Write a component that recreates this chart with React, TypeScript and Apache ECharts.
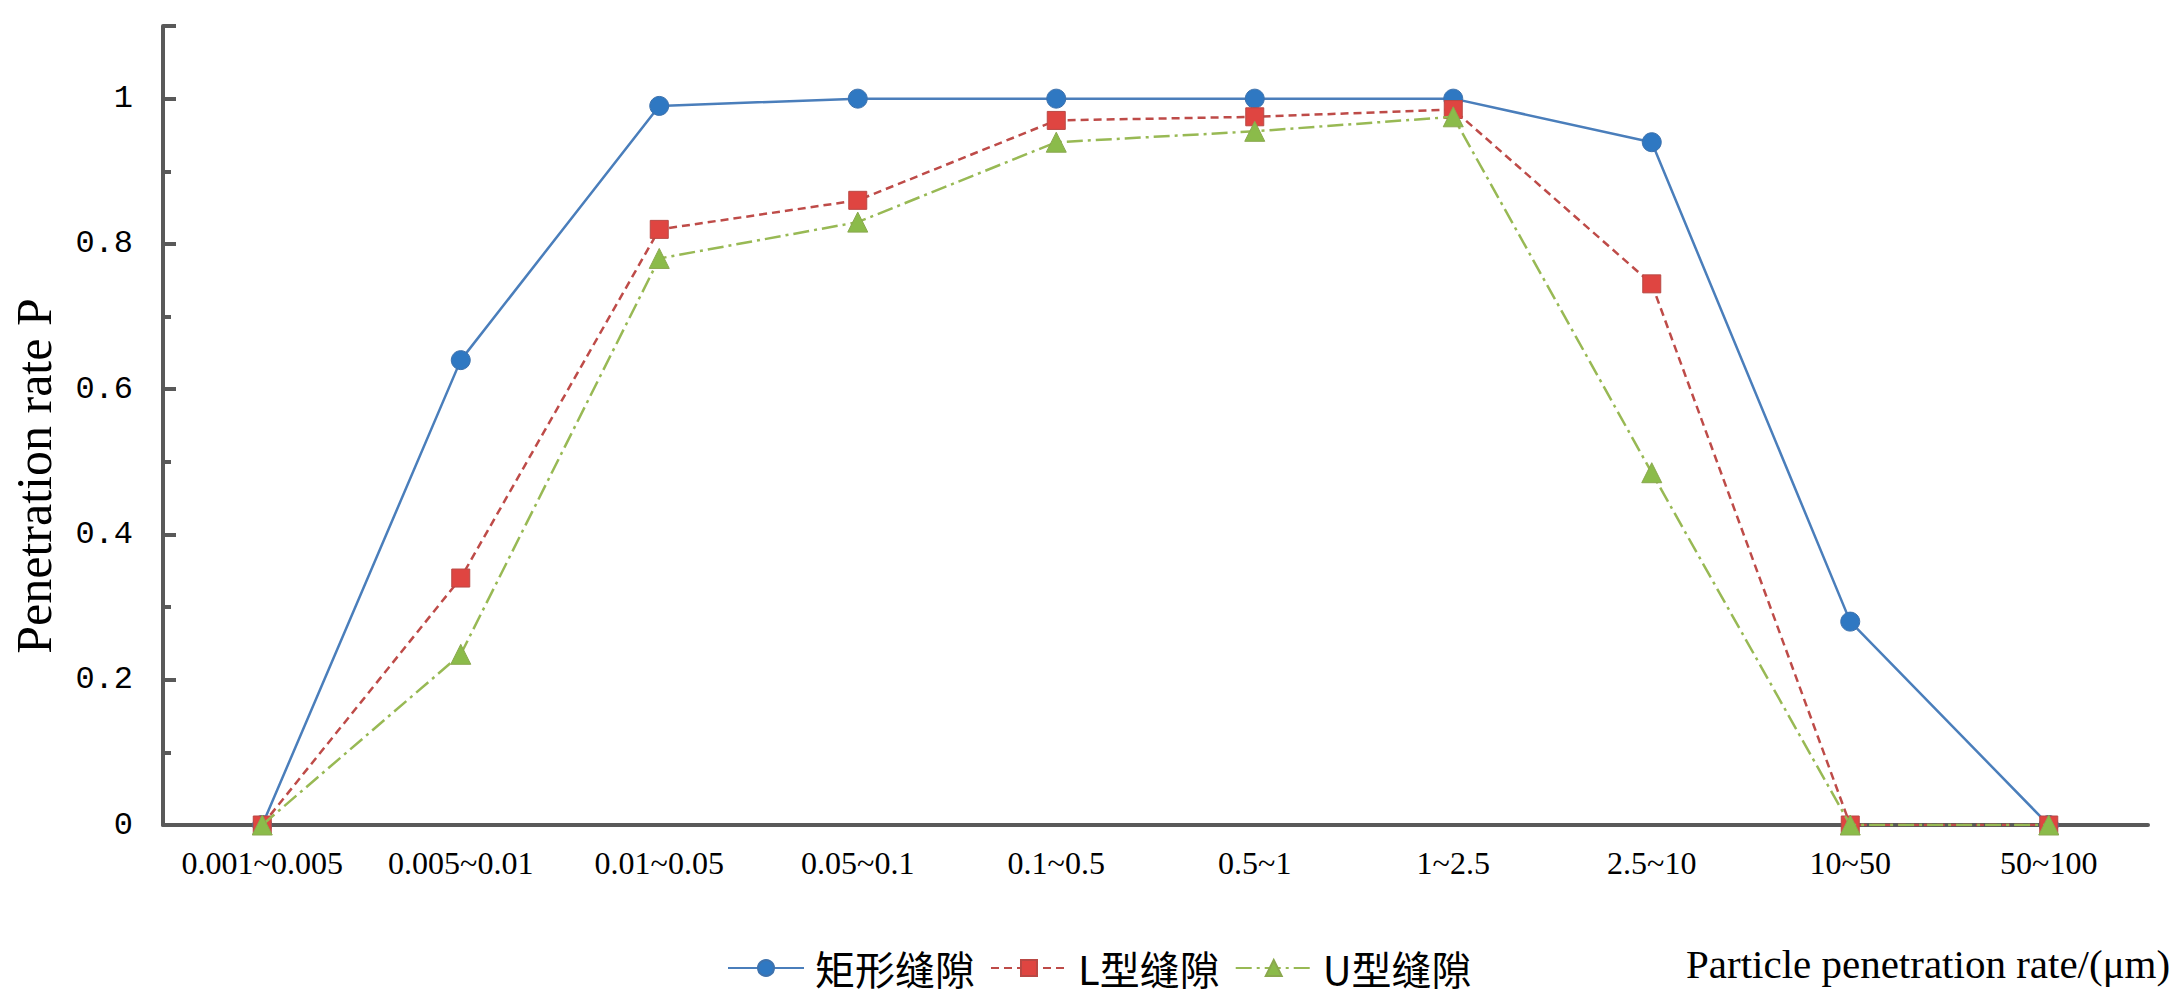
import React, { useEffect, useRef } from "react";
import * as echarts from "echarts";

const categories = [
  "0.001~0.005",
  "0.005~0.01",
  "0.01~0.05",
  "0.05~0.1",
  "0.1~0.5",
  "0.5~1",
  "1~2.5",
  "2.5~10",
  "10~50",
  "50~100",
];
const rectValues = [0, 0.64, 0.99, 1.0, 1.0, 1.0, 1.0, 0.94, 0.28, 0];
const lValues = [0, 0.34, 0.82, 0.86, 0.97, 0.975, 0.985, 0.745, 0, 0];
const uValues = [0, 0.235, 0.78, 0.83, 0.94, 0.955, 0.975, 0.485, 0, 0];
const seriesNames = ["矩形缝隙", "L型缝隙", "U型缝隙"];
const yTitle = "Penetration rate P";
const xTitle = "Particle penetration rate/(μm)";

const AXIS_COLOR = "#595959";

export default function App() {
  const ref = useRef<HTMLDivElement>(null);
  useEffect(() => {
    if (!ref.current) return;
    const chart = echarts.init(ref.current, undefined, { renderer: "svg" });
    const option: any = {
      animation: false,
      backgroundColor: "#ffffff",
      grid: { left: 163, right: 33, top: 26, bottom: 182, containLabel: false },
      legend: {
        left: 722,
        top: 943,
        itemWidth: 76,
        itemHeight: 20,
        itemGap: 15,
        data: seriesNames,
        textStyle: {
          fontFamily: "Noto Sans CJK SC",
          fontSize: 40,
          color: "#000",
          padding: [0, 0, 0, 6],
        },
      },
      xAxis: {
        type: "category",
        data: categories,
        boundaryGap: true,
        axisLine: { lineStyle: { color: AXIS_COLOR, width: 4 } },
        axisTick: { inside: true, length: 12, lineStyle: { color: AXIS_COLOR, width: 4 } },
        axisLabel: {
          interval: 0,
          margin: 22,
          fontFamily: "Liberation Serif",
          fontSize: 32,
          color: "#000",
        },
        splitLine: { show: false },
      },
      yAxis: [
        {
          type: "value",
          min: 0,
          max: 1.1,
          interval: 0.2,
          position: "left",
          axisLine: { show: true, lineStyle: { color: AXIS_COLOR, width: 4 } },
          axisTick: { show: true, inside: true, length: 13, lineStyle: { color: AXIS_COLOR, width: 4 } },
          axisLabel: {
            margin: 30,
            fontFamily: "Liberation Mono",
            fontSize: 32,
            color: "#000",
            formatter: (v: number) => (v > 1.05 ? "" : String(Math.round(v * 10) / 10)),
          },
          splitLine: { show: false },
        },
        {
          type: "value",
          min: 0,
          max: 1.1,
          interval: 0.1,
          position: "left",
          offset: 0,
          axisLine: { show: false },
          axisTick: { show: true, inside: true, length: 8, lineStyle: { color: AXIS_COLOR, width: 4 } },
          axisLabel: { show: false },
          splitLine: { show: false },
        },
      ],
      series: [
        {
          name: seriesNames[0],
          type: "line",
          data: rectValues,
          yAxisIndex: 0,
          symbol: "circle",
          symbolSize: 19,
          lineStyle: { color: "#4a7ebb", width: 2.5, type: "solid" },
          itemStyle: { color: "#2f78c2", borderColor: "#3e72ad", borderWidth: 1 },
          z: 2,
        },
        {
          name: seriesNames[1],
          type: "line",
          data: lValues,
          yAxisIndex: 0,
          symbol: "rect",
          symbolSize: 18,
          lineStyle: { color: "#be4b48", width: 2.5, type: [8, 5] },
          itemStyle: { color: "#df4541", borderColor: "#b94844", borderWidth: 1 },
          z: 3,
        },
        {
          name: seriesNames[2],
          type: "line",
          data: uValues,
          yAxisIndex: 0,
          symbol: "triangle",
          symbolSize: 20,
          lineStyle: { color: "#98b954", width: 2.5, type: [16, 5, 3, 5] },
          itemStyle: { color: "#8bbb4a", borderColor: "#8aa84e", borderWidth: 1 },
          z: 4,
        },
      ],
      graphic: [
        {
          type: "text",
          x: 34,
          y: 476,
          rotation: Math.PI / 2,
          style: {
            text: yTitle,
            fontFamily: "Liberation Serif",
            fontSize: 50,
            fill: "#000",
            textAlign: "center",
            textVerticalAlign: "middle",
          },
        },
        {
          type: "text",
          x: 1686,
          y: 964,
          style: {
            text: xTitle,
            fontFamily: "Liberation Serif",
            fontSize: 41,
            fill: "#000",
            textAlign: "left",
            textVerticalAlign: "middle",
          },
        },
      ],
    };
    chart.setOption(option);
    return () => chart.dispose();
  }, []);
  return (
    <div
      ref={ref}
      style={{ position: "fixed", left: 0, top: 0, width: 2181, height: 1007, background: "#fff" }}
    />
  );
}
